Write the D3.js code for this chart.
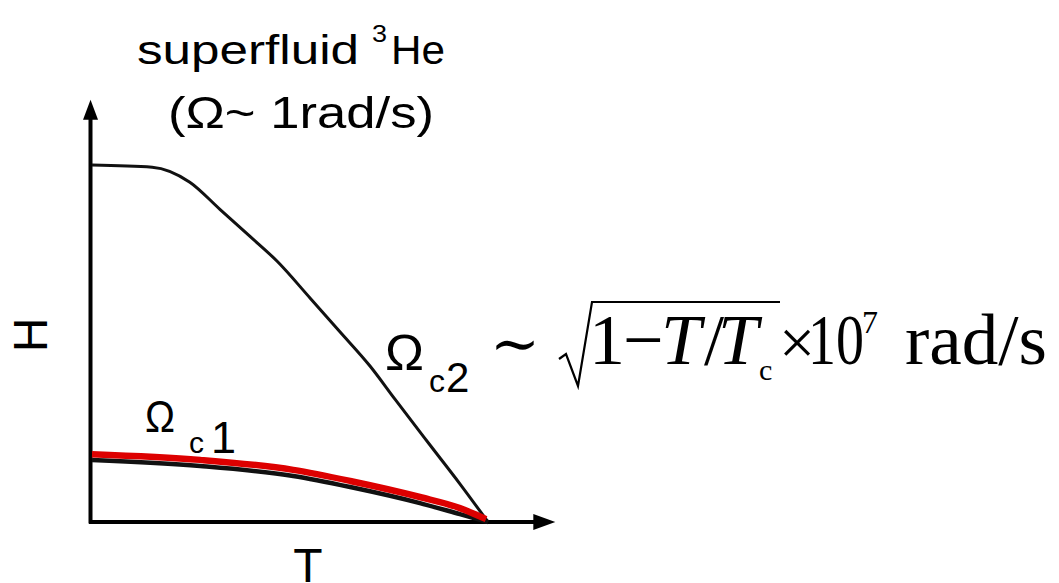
<!DOCTYPE html>
<html>
<head>
<meta charset="utf-8">
<script src="https://cdn.jsdelivr.net/npm/d3@7"></script>
<style>
  html, body { margin: 0; padding: 0; background: #fff; }
  svg { display: block; }
</style>
</head>
<body>
<script>
// Reduced temperature T/Tc sampled along each critical curve
const tUpper = [0, 0.152, 0.247, 0.323, 0.399, 0.467, 0.551, 0.626, 0.702, 0.765, 0.854, 0.929, 1.0];
// Upper critical rotation Ωc2 (normalised to its T = 0 value)
const hUpper = [1.0, 0.994, 0.952, 0.876, 0.800, 0.731, 0.627, 0.533, 0.437, 0.344, 0.215, 0.107, 0.0];
// Lower critical rotation Ωc1 (black outline and red highlight)
const tLower = [0, 0.273, 0.508, 0.652, 0.828, 0.929, 1.0];
const hLower = [0.174, 0.157, 0.129, 0.098, 0.053, 0.022, 0.0];
const tLowerRed = [0, 0.273, 0.508, 0.652, 0.828, 0.929, 0.995];
const hLowerRed = [0.190, 0.174, 0.146, 0.115, 0.070, 0.039, 0.008];
// Extent of the axis arrows in data units
const tAxisMax = 1.17;
const hAxisMax = 1.183;

const W = 1059, H = 583;
const svg = d3.select("body").append("svg").attr("width", W).attr("height", H);

const x = d3.scaleLinear().domain([0, 1]).range([92, 488]);
const y = d3.scaleLinear().domain([0, 1]).range([522, 165]);

const line = (ts, hs) => d3.line()
  .x((d, i) => x(ts[i]))
  .y((d, i) => y(hs[i]))
  .curve(d3.curveMonotoneX)(ts);

// Axes with arrowheads
const x0 = x(0) - 1.5, y0 = y(0);
svg.append("line").attr("x1", x0 - 1.5).attr("y1", y0).attr("x2", x(tAxisMax) - 10).attr("y2", y0)
  .attr("stroke", "#000").attr("stroke-width", 4);
svg.append("line").attr("x1", x0).attr("y1", y0 + 1.5).attr("x2", x0).attr("y2", y(hAxisMax) + 10)
  .attr("stroke", "#000").attr("stroke-width", 4);
const xt = x(tAxisMax), yt = y(hAxisMax);
svg.append("path").attr("d", `M${xt},${y0} L${xt - 22},${y0 - 8} L${xt - 22},${y0 + 8} Z`).attr("fill", "#000");
svg.append("path").attr("d", `M${x0},${yt} L${x0 - 7.5},${yt + 20} L${x0 + 7.5},${yt + 20} Z`).attr("fill", "#000");

// Curves
svg.append("path").attr("d", line(tUpper, hUpper)).attr("fill", "none")
  .attr("stroke", "#111").attr("stroke-width", 3).attr("stroke-linejoin", "round");
svg.append("path").attr("d", line(tLower, hLower)).attr("fill", "none")
  .attr("stroke", "#111").attr("stroke-width", 4.5).attr("stroke-linejoin", "round");
svg.append("path").attr("d", line(tLowerRed, hLowerRed)).attr("fill", "none")
  .attr("stroke", "#dd0000").attr("stroke-width", 6.5).attr("stroke-linejoin", "round");

// Text helpers
const sans = "'Liberation Sans', Arial, sans-serif";
const serif = "'Liberation Serif', 'Times New Roman', serif";
function label(txt, px, py, size, opts = {}) {
  const t = svg.append("text").attr("x", px).attr("y", py)
    .attr("font-family", opts.family || sans)
    .attr("font-size", size)
    .attr("fill", "#000")
    .text(txt);
  if (opts.italic) t.attr("font-style", "italic");
  if (opts.len) t.attr("textLength", opts.len).attr("lengthAdjust", "spacingAndGlyphs");
  if (opts.anchor) t.attr("text-anchor", opts.anchor);
  if (opts.transform) t.attr("transform", opts.transform);
  return t;
}

// Title
label("superfluid", 137, 64, 40, { len: 222 });
label("3", 372, 42, 23, { len: 15 });
label("He", 391, 64, 40, { len: 54 });
label("(Ω~ 1rad/s)", 168, 128, 45, { len: 266 });

// Axis titles
label("H", 0, 0, 48, { anchor: "middle", transform: "translate(47,335) rotate(-90)" });
label("T", 308, 582, 48, { anchor: "middle" });

// Curve labels
label("Ω", 145, 432, 44, { len: 30 });
label("c", 189, 453, 30);
label("1", 211, 453, 45);
label("Ω", 385, 370, 50, { len: 39 });
label("c", 429, 392, 32);
label("2", 446, 392, 42);

// Ωc2 ~ sqrt(1 - T/Tc) x 10^7 rad/s
label("∼", 490, 364, 60, { family: "'DejaVu Serif', serif", len: 50 });
svg.append("path")
  .attr("d", "M559,359 L566,354 L578,386 L592,302 L780,302")
  .attr("fill", "none").attr("stroke", "#000").attr("stroke-width", 2.2).attr("stroke-linejoin", "miter");
label("1", 589, 364, 72, { family: serif });
label("−", 623, 364, 72, { family: serif });
label("T", 661, 364, 72, { family: serif, italic: true });
label("/", 704, 364, 72, { family: serif });
label("T", 718, 364, 72, { family: serif, italic: true });
label("c", 759, 380, 30, { family: serif });
label("×", 779, 364, 64, { family: serif });
label("10", 808, 364, 72, { family: serif, len: 56 });
label("7", 862, 333, 32, { family: serif });
label("rad/s", 905, 364, 72, { family: serif, len: 142 });
</script>
</body>
</html>
